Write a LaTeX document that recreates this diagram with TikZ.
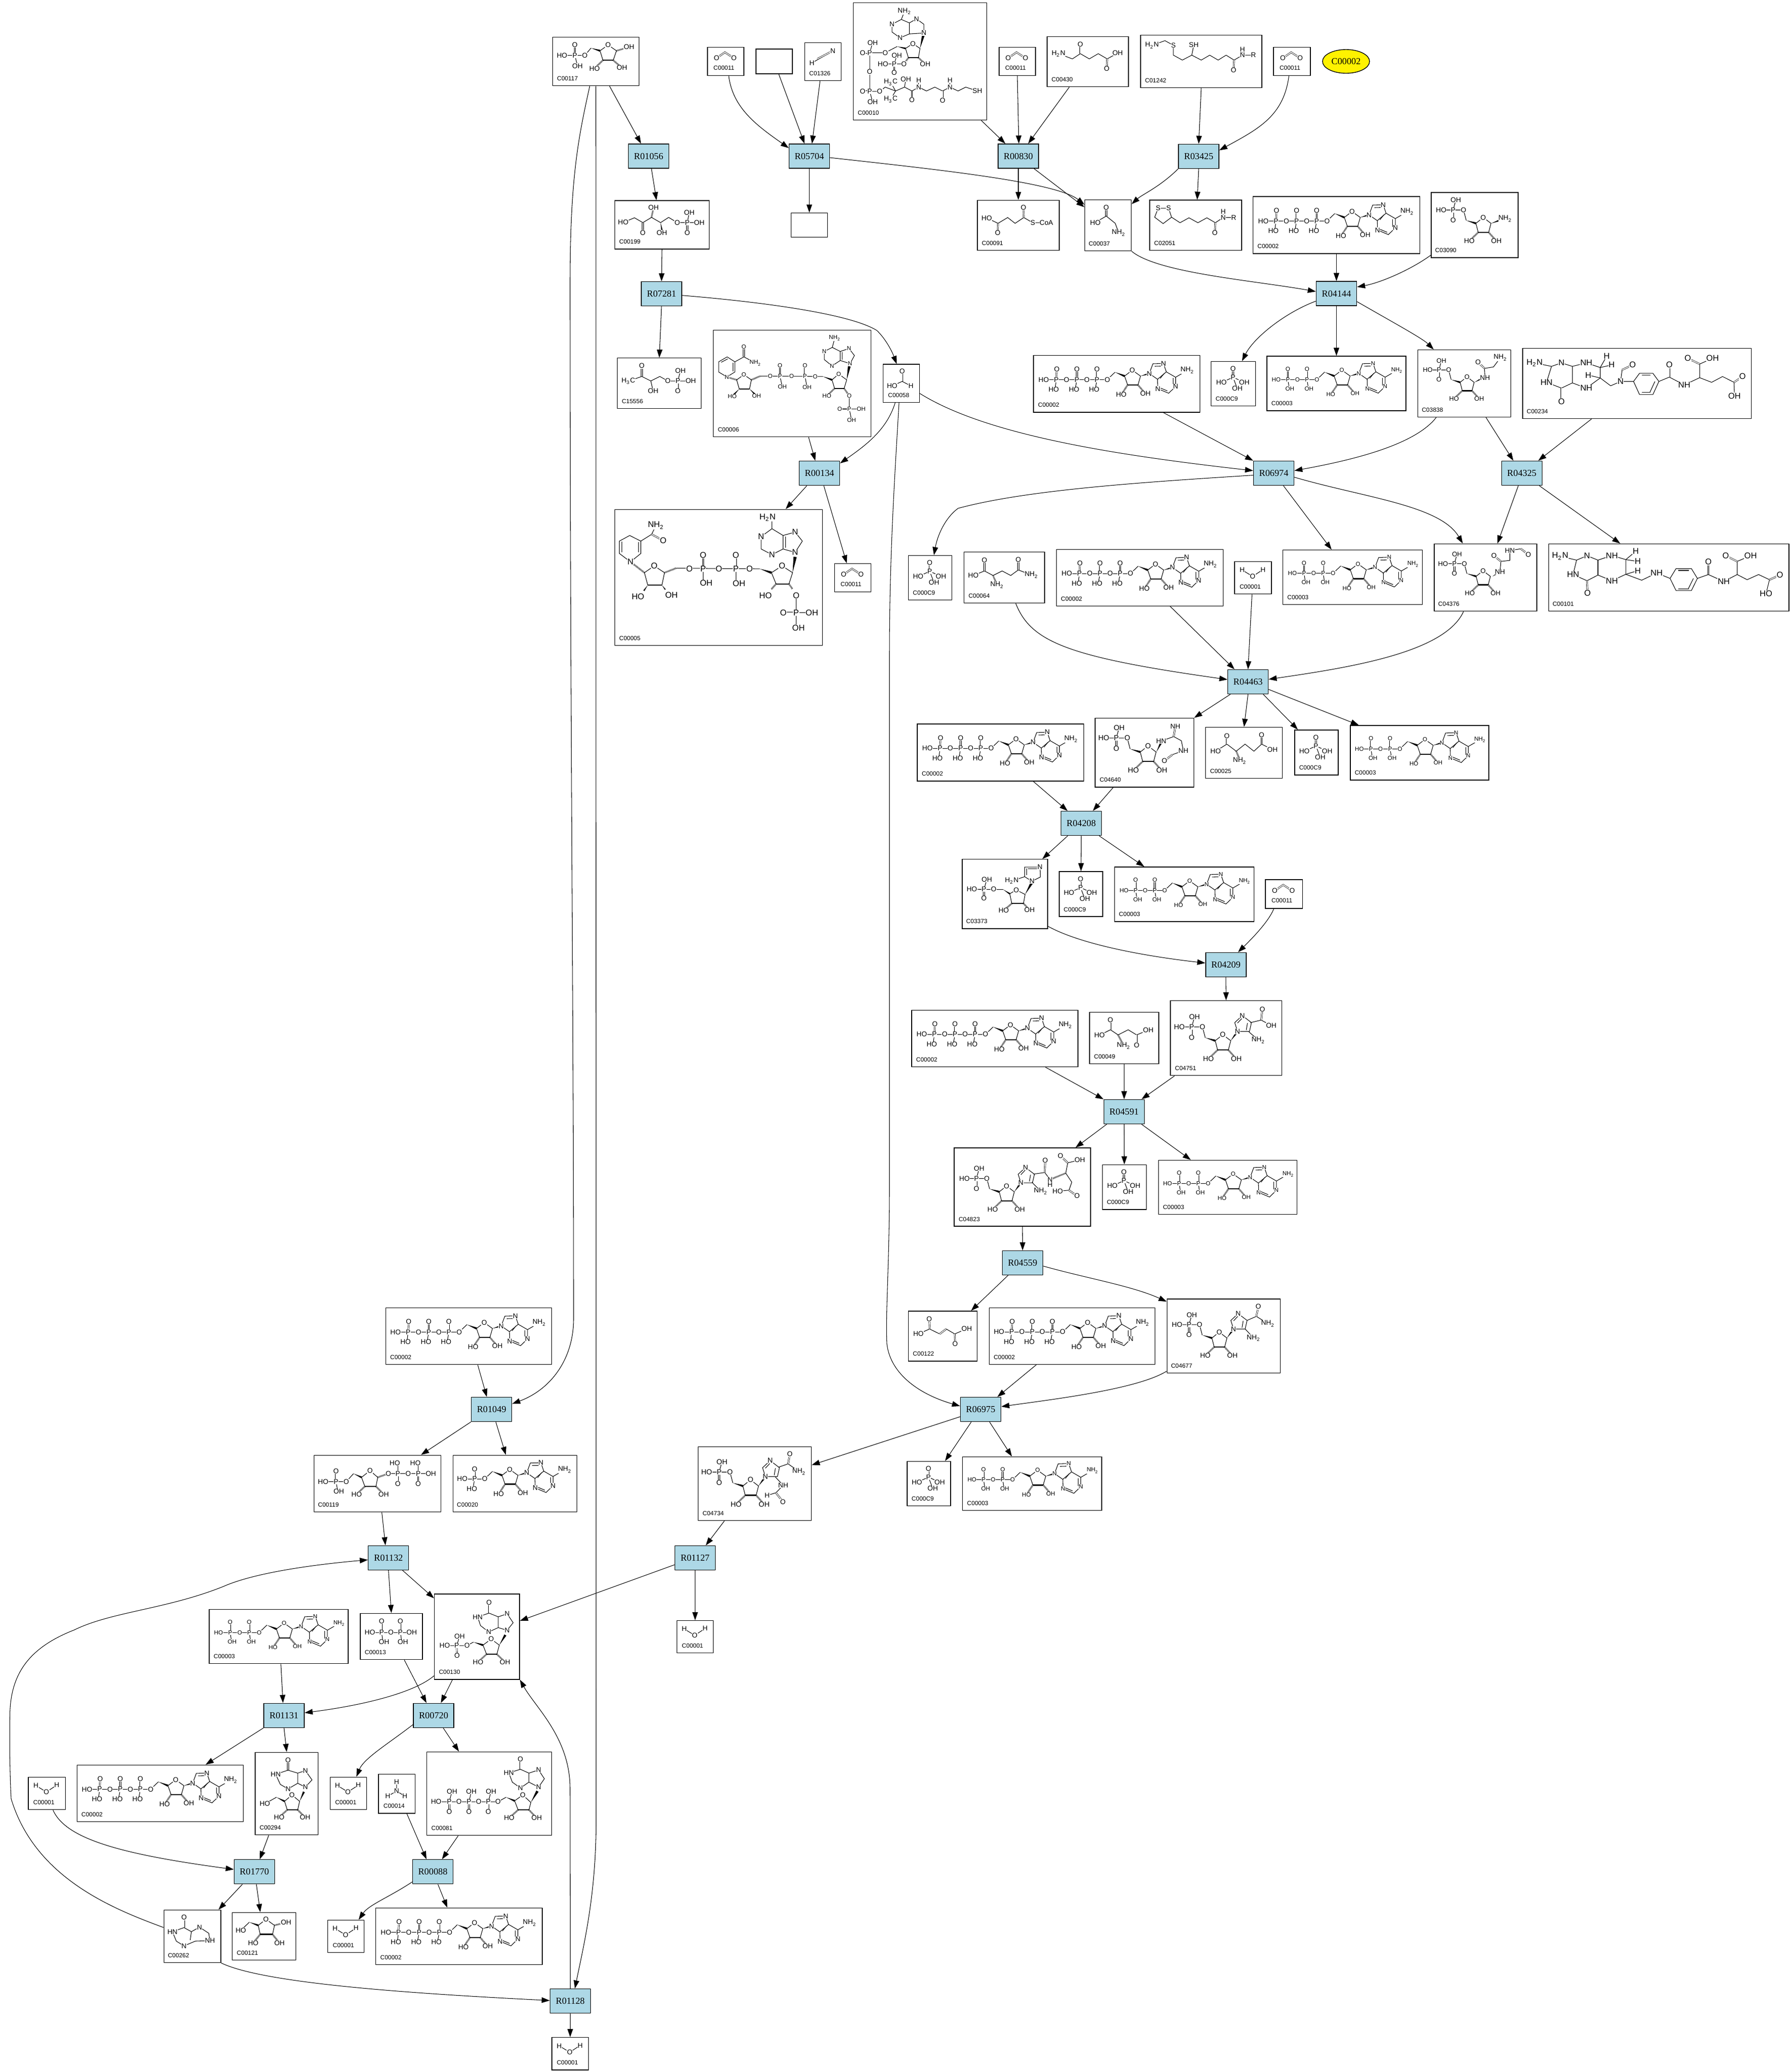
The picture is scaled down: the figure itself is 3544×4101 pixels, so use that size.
\documentclass[tikz,border=0pt]{standalone}
\usepackage{fontspec}
\setmainfont{Liberation Sans}
\newfontfamily\rxnfont{Liberation Serif}
\usetikzlibrary{arrows.meta,calc,shapes.geometric}
\definecolor{rxnblue}{HTML}{ADD8E6}
\newcommand{\atomfonta}{\fontsize{3.9}{4.5}\selectfont}
\newcommand{\atomfontb}{\fontsize{3.3}{4}\selectfont}
\newcommand{\atomfontc}{\fontsize{4.7}{5.5}\selectfont}
\newcommand{\nh}{NH\textsubscript{2}}
\newcommand{\hn}{H\textsubscript{2}N}
\newcommand{\hc}{H\textsubscript{3}C}
\newcommand{\atoms}[1]{\foreach \atx/\aty/\att in {#1} \node[atom] (n\atx-\aty) at (\atx,\aty) {\att};}
\newcommand{\wdg}[2]{\fill #1 -- ($#2!0.1!90:#1$) -- ($#2!0.1!-90:#1$) -- cycle;}
\tikzset{
  zm/.style n args={4}{x=0.01cm/#1,y=-0.01cm/#2,shift={(-#3,-#4)}},
  rxn/.style={draw,fill=rxnblue,line width=0.4pt,inner sep=0pt,minimum width=0.8cm,minimum height=0.48cm,font=\rxnfont\fontsize{5.2}{6}\selectfont},
  cpd/.style={draw,line width=0.4pt,inner sep=0pt},
  cid/.style={anchor=south west,inner sep=0pt,font=\fontsize{3.4}{4}\selectfont},
  conn/.style={line width=0.3pt,-{Triangle[length=1.6mm,width=1.1mm]}},
  atom/.style={fill=white,inner sep=0.15pt,transform shape,font=\atomfonta},
  bond/.style={line width=0.3pt},
  dbl/.style={line width=0.2pt,double,double distance=0.5pt},
  hashb/.style={line width=0.9pt,dash pattern=on 0.25pt off 0.35pt},
  boldb/.style={line width=0.7pt},
  adenosine/.pic={
    \begin{scope}[zm={1.96}{3}{703}{259}]
    \draw[bond] (703,259) -- (733,215);
    \wdg{(733,215)}{(770,238)}
    \draw[bond] (770,238) -- (800,203) -- (832,238) -- (822,291);
    \draw[boldb] (822,291) -- (782,291);
    \draw[bond] (782,291) -- (770,238);
    \draw[hashb] (782,291) -- (757,348);
    \draw[hashb] (822,291) -- (851,342);
    \wdg{(832,238)}{(866,223)}
    \draw[bond] (866,223) -- (880,165) -- (921,163) -- (932,213) -- (898,257) -- cycle;
    \draw[bond] (898,257) -- (899,313) -- (941,340) -- (968,300) -- (968,245) -- (932,213);
    \draw[bond] (968,245) -- (1014,204);
    \draw[bond] (887,180) -- (912,179);
    \draw[bond] (908,252) -- (924,222);
    \draw[bond] (908,308) -- (936,326);
    \draw[bond] (958,295) -- (958,250);
    \atoms{800/203/O,866/223/N,921/163/N,899/313/N,968/300/N,1014/204/\nh,757/348/HO,851/342/OH}
    \end{scope}
  },
  atp/.pic={
    \begin{scope}[zm={1.96}{3}{739.5}{283.5}]
    \draw[bond] (456,259) -- (703,259);
    \draw[dbl] (505,259) -- (507,198);
    \draw[bond] (505,259) -- (500,318);
    \draw[dbl] (585,259) -- (585,198);
    \draw[bond] (585,259) -- (578,318);
    \draw[dbl] (663,259) -- (663,198);
    \draw[bond] (663,259) -- (656,318);
    \atoms{456/259/HO,505/259/P,507/198/O,495/318/HO,545/259/O,585/259/P,585/198/O,574/318/HO,624/259/O,663/259/P,663/198/O,652/318/HO}
    \pic at (703,259) {adenosine};
    \atoms{703/259/O}
    \end{scope}
  },
  adp/.pic={
    \begin{scope}[zm={1.742}{2.24}{1292.5}{529.5},atom/.append style={font=\atomfontb}]
    \draw[bond] (1085,512) -- (1225,512);
    \draw[dbl] (1125,512) -- (1125,466);
    \draw[bond] (1125,512) -- (1130,552);
    \draw[dbl] (1191,512) -- (1191,466);
    \draw[bond] (1191,512) -- (1196,552);
    \atoms{1085/512/HO,1125/512/P,1125/466/O,1132/552/OH,1158/512/O,1191/512/P,1191/466/O,1198/552/OH}
    \pic at (1225,512) {adenosine};
    \atoms{1225/512/O}
    \end{scope}
  },
  amp/.pic={
    \begin{scope}[zm={1.96}{3}{919}{1159.5}]
    \draw[bond] (715,1131) -- (802,1131);
    \draw[dbl] (763,1131) -- (763,1072);
    \draw[bond] (763,1131) -- (756,1190);
    \atoms{715/1131/HO,763/1131/P,763/1072/O,752/1190/HO}
    \pic at (802,1131) {adenosine};
    \atoms{802/1131/O}
    \end{scope}
  },
  phosph/.pic={
    \begin{scope}[zm={1.307}{2.24}{115}{1313.5}]
    \draw[dbl] (114,1285) -- (114,1247);
    \draw[bond] (84,1308) -- (114,1285) -- (143,1307);
    \draw[bond] (114,1285) -- (125,1335);
    \atoms{114/1247/O,114/1285/P,84/1308/HO,143/1307/OH,125/1335/OH}
    \end{scope}
  },
  water/.pic={
    \begin{scope}[zm={1.742}{2.24}{131.5}{1208.5}]
    \draw[bond] (94,1174) -- (130,1202) -- (166,1172);
    \atoms{94/1174/H,130/1202/O,166/1172/H}
    \end{scope}
  },
  cotwo/.pic={
    \begin{scope}[zm={1.568}{2.613}{605.5}{317}]
    \draw[dbl] (577,300) -- (603,270) -- (631,300);
    \atoms{577/300/O,631/300/O}
    \end{scope}
  },
  hcn/.pic={
    \begin{scope}[zm={1.568}{2.613}{907.5}{319}]
    \draw[bond] (873,326) -- (938,263);
    \draw[dbl] (890,305) -- (938,263);
    \atoms{873/326/H,938/263/N}
    \end{scope}
  },
  coa/.pic={
    \begin{scope}[zm={1.568}{2.613}{1208}{317}]
    \draw[bond] (1220,170) -- (1220,125) -- (1197,97) -- (1175,118) -- (1175,175) -- cycle;
    \draw[bond] (1175,175) -- (1146,195) -- (1121,165) -- (1121,125) -- (1150,100) -- (1175,118);
    \draw[bond] (1150,100) -- (1160,58);
    \wdg{(1208,250)}{(1220,170)}
    \draw[bond] (1163,250) -- (1186,225) -- (1208,250) -- (1203,298);
    \draw[boldb] (1203,298) -- (1172,298);
    \draw[bond] (1172,298) -- (1163,250);
    \wdg{(1137,240)}{(1163,250)}
    \draw[bond] (1137,240) -- (1100,272) -- (1052,272) -- (1061,220);
    \draw[dbl] (1052,272) -- (1030,272);
    \draw[bond] (1052,272) -- (1052,472) -- (1061,528);
    \draw[dbl] (1052,472) -- (1030,472);
    \draw[bond] (1052,472) -- (1083,472) -- (1100,450) -- (1132,470) -- (1160,450) -- (1183,470) -- (1204,450) -- (1228,470) -- (1254,450) -- (1278,470) -- (1301,450) -- (1326,470) -- (1350,450) -- (1386,470);
    \draw[bond] (1117,425) -- (1132,470) -- (1117,513);
    \draw[bond] (1160,450) -- (1164,408);
    \draw[dbl] (1183,470) -- (1183,516);
    \draw[dbl] (1278,470) -- (1278,518);
    \draw[bond] (1204,450) -- (1204,425);
    \draw[bond] (1301,450) -- (1301,425);
    \draw[hashb] (1172,298) -- (1158,330);
    \draw[hashb] (1203,298) -- (1224,330);
    \draw[bond] (1158,330) -- (1093,330);
    \draw[bond] (1128,330) -- (1136,287);
    \draw[dbl] (1128,330) -- (1128,376);
    \atoms{1160/58/\nh,1121/125/N,1146/195/N,1197/97/N,1220/170/N,1186/225/O,1224/330/OH,1158/330/O,1128/330/P,1093/330/HO,1136/287/OH,1128/376/O,1100/272/O,1052/272/P,1030/272/O,1061/220/OH,1052/371/O,1052/472/P,1030/472/O,1061/528/OH,1083/472/O,1117/425/\hc,1117/513/\hc,1164/408/OH,1183/516/O,1204/450/N,1204/415/H,1278/518/O,1301/450/N,1301/415/H,1386/470/SH}
    \end{scope}
  },
  alevulin/.pic={
    \begin{scope}[zm={1.0155}{1.742}{155}{212.5}]
    \draw[bond] (96,185) -- (124,203) -- (140,185) -- (158,203) -- (176,185) -- (194,203) -- (215,183);
    \draw[dbl] (140,185) -- (140,152);
    \draw[dbl] (194,203) -- (193,237);
    \atoms{96/185/\hn,140/152/O,193/237/O,215/183/OH}
    \end{scope}
  },
  dihydrolip/.pic={
    \begin{scope}[zm={1.0155}{1.742}{383}{211.5}]
    \draw[bond] (284,156) -- (310,140) -- (327,156) -- (327,190) -- (345,207) -- (364,190) -- (383,207) -- (400,190) -- (417,207) -- (433,190) -- (449,207) -- (466,190) -- (488,190);
    \draw[bond] (364,190) -- (368,155);
    \draw[bond] (466,190) -- (466,170);
    \draw[dbl] (449,207) -- (448,242);
    \atoms{284/156/\hn,327/156/S,368/155/SH,466/190/N,466/170/H,488/190/R,448/242/O}
    \end{scope}
  },
  glycine/.pic={
    \begin{scope}[zm={1.0155}{1.742}{195.5}{777}]
    \draw[dbl] (192,715) -- (192,745);
    \draw[bond] (170,767) -- (192,745) -- (210,770) -- (217,803);
    \atoms{192/715/O,170/767/HO,217/803/\nh}
    \end{scope}
  },
  succoa/.pic={
    \begin{scope}[zm={1.568}{2.613}{1513}{1165.4}]
    \draw[bond] (1415,1127) -- (1450,1155) -- (1480,1125) -- (1503,1155) -- (1530,1125) -- (1558,1152) -- (1600,1152);
    \draw[dbl] (1450,1155) -- (1449,1205);
    \draw[dbl] (1530,1125) -- (1529,1074);
    \atoms{1415/1127/HO,1449/1205/O,1529/1074/O,1558/1152/S,1600/1152/CoA}
    \end{scope}
  },
  lipoyl/.pic={
    \begin{scope}[zm={1.0155}{1.742}{371.5}{776.5}]
    \draw[bond] (296,718) -- (317,718) -- (323,749) -- (306,771) -- (289,749) -- cycle;
    \draw[bond] (323,749) -- (340,768) -- (358,751) -- (376,768) -- (394,751) -- (411,768) -- (427,750) -- (448,750);
    \draw[bond] (427,750) -- (427,730);
    \draw[dbl] (411,768) -- (410,803);
    \atoms{296/718/S,317/718/S,427/750/N,427/730/H,448/750/R,410/803/O}
    \end{scope}
  },
  ribp/.pic={
    \begin{scope}[zm={1.307}{2.24}{847}{668}]
    \draw[bond] (757,609) -- (815,609) -- (822,655);
    \draw[bond] (788,609) -- (795,565);
    \draw[dbl] (788,609) -- (788,654);
    \wdg{(822,655)}{(847,668)}
    \draw[bond] (847,668) -- (866,642) -- (886,668) -- (880,708);
    \draw[boldb] (880,708) -- (853,708);
    \draw[bond] (853,708) -- (847,668);
    \draw[hashb] (853,708) -- (830,746);
    \draw[hashb] (880,708) -- (900,746);
    \atoms{757/609/HO,788/609/P,795/565/OH,788/654/O,815/609/O,866/642/O,830/746/HO,900/746/OH}
    \end{scope}
  },
  imring/.pic={
    \begin{scope}[zm={1.307}{2.24}{847}{668}]
    \wdg{(886,668)}{(903,628)}
    \draw[bond] (903,628) -- (896,590) -- (915,560) -- (938,590) -- (933,628) -- cycle;
    \draw[bond] (903,592) -- (914,572);
    \draw[bond] (928,592) -- (925,622);
    \atoms{903/628/N,915/560/N}
    \end{scope}
  },
  pra/.pic={
    \begin{scope}[zm={1.0155}{1.742}{932.5}{776}]
    \pic at (935,770) {ribp};
    \wdg{(966,770)}{(985,758)}
    \atoms{994/754/\nh}
    \end{scope}
  },
  gar/.pic={
    \begin{scope}[zm={1.0155}{1.742}{911.5}{1322}]
    \pic[scale=0.93] at (903,1318) {ribp};
    \wdg{(932,1318)}{(945,1306)}
    \draw[bond] (953,1303) -- (952,1270) -- (970,1265) -- (984,1233);
    \draw[dbl] (952,1270) -- (939,1248);
    \atoms{953/1303/NH,939/1248/O,984/1233/\nh}
    \end{scope}
  },
  fgar/.pic={
    \begin{scope}[zm={1.0155}{1.96}{954}{574.5}]
    \pic[scale=0.95] at (935,570) {ribp};
    \wdg{(968,570)}{(978,558)}
    \draw[bond] (983,553) -- (985,512) -- (1003,508) -- (1003,470) -- (1025,463);
    \draw[dbl] (985,512) -- (971,490);
    \draw[dbl] (1025,463) -- (1040,485);
    \atoms{983/553/NH,971/490/O,1003/470/HN,1040/485/O}
    \end{scope}
  },
  fgam/.pic={
    \begin{scope}[zm={1.254}{1.568}{645.5}{172}]
    \pic[scale=1.05] at (635,170) {ribp};
    \wdg{(675,170)}{(687,140)}
    \draw[bond] (687,136) -- (718,122) -- (737,135) -- (742,166) -- (715,178);
    \draw[dbl] (718,122) -- (722,90);
    \draw[dbl] (715,178) -- (695,197);
    \atoms{687/136/HN,722/90/NH,742/166/NH,695/197/O}
    \end{scope}
  },
  air/.pic={
    \begin{scope}[zm={1.254}{1.568}{299}{610.5}]
    \draw[bond] (217,596) -- (295,597);
    \draw[bond] (247,596) -- (254,566);
    \draw[dbl] (247,596) -- (247,624);
    \wdg{(295,597)}{(311,610)}
    \draw[bond] (311,610) -- (327,598) -- (349,612) -- (345,640);
    \draw[boldb] (345,640) -- (316,640);
    \draw[bond] (316,640) -- (311,610);
    \draw[hashb] (316,640) -- (296,662);
    \draw[hashb] (345,640) -- (360,660);
    \wdg{(349,612)}{(366,575)}
    \draw[bond] (366,571) -- (348,557) -- (348,527) -- (386,527) -- (387,558) -- cycle;
    \draw[bond] (353,552) -- (353,532);
    \draw[bond] (356,532) -- (382,532);
    \draw[bond] (348,557) -- (316,570);
    \atoms{254/566/OH,217/596/HO,247/596/P,271/596/O,247/624/O,327/598/O,296/662/HO,360/660/OH,366/571/N,386/527/N,316/570/\hn}
    \end{scope}
  },
  cair/.pic={
    \begin{scope}[zm={1.254}{1.568}{848}{1058}]
    \pic[scale=1.03] at (821,1066) {ribp};
    \pic[scale=1.03] at (821,1066) {imring};
    \draw[bond] (908,1010) -- (935,1002) -- (960,1019);
    \draw[dbl] (935,1002) -- (938,968);
    \draw[bond] (904,1038) -- (928,1064);
    \atoms{938/968/O,960/1019/OH,928/1064/\nh}
    \end{scope}
  },
  saicar/.pic={
    \begin{scope}[zm={1.254}{1.568}{342.5}{1520.4}]
    \pic at (285,1535) {ribp};
    \pic at (285,1535) {imring};
    \draw[bond] (370,1480) -- (398,1475) -- (411,1497);
    \draw[dbl] (398,1475) -- (399,1438);
    \draw[bond] (366,1505) -- (388,1533);
    \draw[hashb] (411,1497) -- (450,1477);
    \draw[bond] (450,1477) -- (455,1445) -- (485,1436);
    \draw[dbl] (455,1445) -- (437,1424);
    \draw[bond] (450,1477) -- (465,1505) -- (458,1530) -- (430,1533);
    \draw[dbl] (458,1530) -- (478,1548);
    \atoms{399/1438/O,411/1497/N,411/1512/H,437/1424/O,485/1436/OH,430/1533/HO,478/1548/O,388/1533/\nh}
    \end{scope}
  },
  fumarate/.pic={
    \begin{scope}[zm={1.307}{2.24}{151}{659.5}]
    \draw[bond] (88,650) -- (117,628) -- (143,650);
    \draw[dbl] (143,650) -- (160,628);
    \draw[bond] (160,628) -- (182,650) -- (213,627);
    \draw[dbl] (117,628) -- (116,583);
    \draw[dbl] (182,650) -- (183,694);
    \atoms{88/650/HO,116/583/O,213/627/OH,183/694/O}
    \end{scope}
  },
  aicar/.pic={
    \begin{scope}[zm={1.307}{2.24}{877.5}{659}]
    \pic at (847,668) {ribp};
    \pic at (847,668) {imring};
    \draw[bond] (938,590) -- (962,572) -- (992,604);
    \draw[dbl] (962,572) -- (967,529);
    \draw[bond] (933,628) -- (955,668);
    \atoms{967/529/O,992/604/\nh,955/668/\nh}
    \end{scope}
  },
  faicar/.pic={
    \begin{scope}[zm={1.742}{2.24}{337}{529.5}]
    \pic[scale=1.04] at (296,540) {ribp};
    \pic[scale=1.04] at (296,540) {imring};
    \draw[bond] (418,457) -- (452,442) -- (490,476);
    \draw[dbl] (452,442) -- (458,399);
    \draw[bond] (408,500) -- (435,537) -- (410,570) -- (380,582);
    \draw[dbl] (410,570) -- (434,610);
    \atoms{458/399/O,490/476/\nh,435/537/NH,380/582/H,434/610/O}
    \end{scope}
  },
  rfivep/.pic={
    \begin{scope}[zm={1.568}{2.613}{202}{317}]
    \draw[bond] (97,286) -- (168,286) -- (187,248);
    \draw[dbl] (137,286) -- (137,232);
    \draw[bond] (137,286) -- (145,340);
    \wdg{(187,248)}{(215,262)}
    \draw[bond] (215,262) -- (240,232) -- (266,262) -- (256,311);
    \draw[boldb] (256,311) -- (224,311);
    \draw[bond] (224,311) -- (215,262);
    \draw[hashb] (224,311) -- (198,353);
    \draw[hashb] (256,311) -- (283,350);
    \draw[hashb] (266,262) -- (305,243);
    \atoms{97/286/HO,137/286/P,137/232/O,145/340/OH,168/286/O,240/232/O,198/353/HO,283/350/OH,305/243/OH}
    \end{scope}
  },
  prpp/.pic={
    \begin{scope}[zm={1.96}{3}{386}{1159.5}]
    \draw[bond] (175,1147) -- (265,1147) -- (293,1100);
    \draw[dbl] (225,1147) -- (225,1086);
    \draw[bond] (225,1147) -- (232,1206);
    \wdg{(293,1100)}{(324,1122)}
    \draw[bond] (324,1122) -- (357,1082) -- (387,1122) -- (380,1176);
    \draw[boldb] (380,1176) -- (337,1176);
    \draw[bond] (337,1176) -- (324,1122);
    \draw[hashb] (337,1176) -- (305,1222);
    \draw[hashb] (380,1176) -- (410,1222);
    \draw[hashb] (387,1122) -- (428,1100);
    \draw[bond] (428,1100) -- (593,1100);
    \draw[bond] (465,1100) -- (465,1036);
    \draw[dbl] (465,1100) -- (465,1159);
    \draw[bond] (544,1100) -- (544,1036);
    \draw[dbl] (544,1100) -- (544,1159);
    \atoms{175/1147/HO,225/1147/P,225/1086/O,236/1206/OH,265/1147/O,357/1082/O,305/1222/HO,410/1222/OH,428/1100/O,465/1100/P,453/1036/HO,465/1159/O,505/1100/O,544/1100/P,533/1036/HO,544/1159/O,593/1100/OH}
    \end{scope}
  },
  ppi/.pic={
    \begin{scope}[zm={1.425}{3}{1103.5}{717}]
    \draw[bond] (1043,693) -- (1161,693);
    \draw[dbl] (1076,693) -- (1076,625);
    \draw[dbl] (1129,693) -- (1129,625);
    \draw[bond] (1076,693) -- (1080,750);
    \draw[bond] (1129,693) -- (1133,750);
    \atoms{1076/625/O,1129/625/O,1043/693/HO,1076/693/P,1102/693/O,1129/693/P,1161/693/OH,1083/750/OH,1136/750/OH}
    \end{scope}
  },
  imp/.pic={
    \begin{scope}[zm={1.425}{3}{1345}{718}]
    \draw[dbl] (1379,514) -- (1379,578);
    \draw[bond] (1379,578) -- (1347,601) -- (1355,652) -- (1378,690) -- (1405,664) -- (1405,600) -- cycle;
    \draw[bond] (1405,600) -- (1430,582) -- (1447,635) -- (1430,680) -- (1405,664);
    \wdg{(1408,768)}{(1425,708)}
    \draw[bond] (1362,768) -- (1385,732) -- (1408,768) -- (1401,822);
    \draw[boldb] (1401,822) -- (1372,822);
    \draw[bond] (1372,822) -- (1362,768);
    \wdg{(1335,750)}{(1362,768)}
    \draw[bond] (1335,750) -- (1317,771) -- (1254,771);
    \draw[bond] (1288,771) -- (1296,715);
    \draw[dbl] (1288,771) -- (1289,831);
    \draw[hashb] (1372,822) -- (1348,868);
    \draw[hashb] (1401,822) -- (1424,868);
    \atoms{1379/514/O,1347/601/HN,1378/690/N,1430/582/N,1430/680/N,1385/732/O,1317/771/O,1288/771/P,1254/771/HO,1296/715/OH,1289/831/O,1348/868/HO,1424/868/OH}
    \end{scope}
  },
  inosine/.pic={
    \begin{scope}[zm={1.307}{2.24}{741.5}{336}]
    \draw[dbl] (745,187) -- (745,232);
    \draw[bond] (745,232) -- (713,250) -- (725,295) -- (745,315) -- (770,290) -- (770,245) -- cycle;
    \draw[bond] (770,245) -- (790,234) -- (807,275) -- (790,307) -- (770,290);
    \wdg{(775,370)}{(786,328)}
    \draw[bond] (736,370) -- (755,342) -- (775,370) -- (770,408);
    \draw[boldb] (770,408) -- (743,408);
    \draw[bond] (743,408) -- (736,370);
    \wdg{(715,352)}{(736,370)}
    \draw[bond] (715,352) -- (685,381);
    \draw[hashb] (743,408) -- (722,441);
    \draw[hashb] (770,408) -- (789,441);
    \atoms{745/187/O,713/250/HN,745/315/N,790/234/N,790/307/N,755/342/O,685/381/HO,722/441/HO,789/441/OH}
    \end{scope}
  },
  itp/.pic={
    \begin{scope}[zm={1.307}{2.24}{1265.5}{336}]
    \draw[dbl] (1346,183) -- (1346,228);
    \draw[bond] (1346,228) -- (1316,244) -- (1325,285) -- (1346,311) -- (1368,285) -- (1368,245) -- cycle;
    \draw[bond] (1368,245) -- (1393,231) -- (1408,270) -- (1393,307) -- (1368,285);
    \wdg{(1373,375)}{(1390,325)}
    \draw[bond] (1331,368) -- (1352,342) -- (1373,375) -- (1368,408);
    \draw[boldb] (1368,408) -- (1340,408);
    \draw[bond] (1340,408) -- (1331,368);
    \wdg{(1309,352)}{(1331,368)}
    \draw[bond] (1309,352) -- (1288,372) -- (1128,372);
    \draw[bond] (1162,372) -- (1169,326);
    \draw[bond] (1213,372) -- (1219,326);
    \draw[bond] (1263,372) -- (1270,326);
    \draw[dbl] (1162,372) -- (1162,417);
    \draw[dbl] (1213,372) -- (1213,417);
    \draw[dbl] (1263,372) -- (1263,417);
    \draw[hashb] (1340,408) -- (1317,444);
    \draw[hashb] (1368,408) -- (1388,444);
    \atoms{1346/183/O,1316/244/HN,1346/311/N,1393/231/N,1393/307/N,1352/342/O,1288/372/O,1263/372/P,1238/372/O,1213/372/P,1187/372/O,1162/372/P,1128/372/HO,1169/326/OH,1219/326/OH,1270/326/OH,1162/417/O,1213/417/O,1263/417/O,1317/444/HO,1388/444/OH}
    \end{scope}
  },
  ammonia/.pic={
    \begin{scope}[zm={1.307}{2.24}{1026.5}{336.5}]
    \draw[bond] (1026,284) -- (1026,325) -- (1003,347);
    \draw[bond] (1026,325) -- (1047,347);
    \atoms{1026/284/H,1026/325/N,1003/347/H,1047/347/H}
    \end{scope}
  },
  hypox/.pic={
    \begin{scope}[zm={1.307}{2.24}{497.5}{968.5}]
    \draw[dbl] (476,885) -- (476,930);
    \draw[bond] (476,930) -- (446,948) -- (456,990) -- (476,1011) -- (505,990) -- (543,988) -- (540,955) -- (516,928) -- (495,948) -- (476,930);
    \draw[bond] (495,948) -- (492,985);
    \atoms{476/885/O,446/948/HN,476/1011/N,516/928/N,543/988/NH}
    \end{scope}
  },
  riboseb/.pic={
    \begin{scope}[zm={1.307}{2.24}{683}{968.5}]
    \draw[bond] (623,942) -- (645,906);
    \wdg{(645,906)}{(668,920)}
    \draw[bond] (668,920) -- (688,893) -- (710,920) -- (705,960);
    \draw[boldb] (705,960) -- (673,960);
    \draw[bond] (673,960) -- (668,920);
    \draw[hashb] (710,920) -- (740,907);
    \draw[hashb] (673,960) -- (655,998);
    \draw[hashb] (705,960) -- (723,998);
    \atoms{623/942/HO,688/893/O,740/907/OH,655/998/HO,723/998/OH}
    \end{scope}
  },
  acetolp/.pic={
    \begin{scope}[zm={1.96}{2.24}{205}{355.5}]
    \draw[bond] (85,346) -- (137,325) -- (172,345) -- (207,325) -- (238,345) -- (327,345);
    \draw[dbl] (137,325) -- (137,278);
    \draw[bond] (172,345) -- (181,390);
    \draw[bond] (277,345) -- (287,300);
    \draw[dbl] (277,345) -- (277,390);
    \atoms{85/346/\hc,137/278/O,181/390/OH,238/345/O,277/345/P,287/300/OH,327/345/OH,277/390/O}
    \end{scope}
  },
  ribulp/.pic={
    \begin{scope}[zm={1.568}{2.613}{407.5}{1163.5}]
    \draw[bond] (287,1151) -- (322,1127) -- (348,1152) -- (375,1125) -- (403,1152) -- (428,1125) -- (455,1152) -- (523,1152);
    \draw[dbl] (348,1152) -- (348,1204);
    \draw[hashb] (375,1125) -- (381,1075);
    \wdg{(403,1152)}{(407,1190)}
    \draw[bond] (486,1152) -- (492,1100);
    \draw[dbl] (486,1152) -- (486,1204);
    \atoms{287/1151/HO,348/1204/O,381/1075/OH,407/1204/OH,455/1152/O,486/1152/P,492/1100/OH,523/1152/OH,486/1204/O}
    \end{scope}
  },
  nadp/.pic={
    \begin{scope}[zm={1.96}{2.24}{720.5}{356},atom/.append style={font=\atomfontb}]
    \draw[dbl] (533,194) -- (533,238);
    \draw[bond] (578,265) -- (533,238) -- (498,260);
    \draw[bond] (498,260) -- (468,238) -- (435,260) -- (435,305) -- (467,327) -- (498,305) -- cycle;
    \draw[bond] (445,262) -- (470,247);
    \draw[bond] (490,265) -- (490,302);
    \draw[hashb] (467,327) -- (505,340);
    \draw[bond] (505,340) -- (533,317) -- (562,340) -- (555,380);
    \draw[boldb] (555,380) -- (515,380);
    \draw[bond] (515,380) -- (505,340);
    \wdg{(515,380)}{(488,413)}
    \wdg{(555,380)}{(582,411)}
    \draw[hashb] (562,340) -- (597,323);
    \draw[bond] (597,323) -- (840,325);
    \draw[dbl] (673,323) -- (673,277);
    \draw[bond] (673,323) -- (682,371);
    \draw[dbl] (770,323) -- (770,277);
    \draw[bond] (770,323) -- (778,373);
    \wdg{(840,325)}{(875,340)}
    \draw[bond] (875,340) -- (901,314) -- (932,340) -- (922,378);
    \draw[boldb] (922,378) -- (885,378);
    \draw[bond] (885,378) -- (875,340);
    \draw[hashb] (885,378) -- (855,411);
    \draw[hashb] (922,378) -- (942,411);
    \draw[bond] (942,411) -- (942,469) -- (988,469);
    \draw[dbl] (942,469) -- (905,469);
    \draw[bond] (942,469) -- (951,518);
    \wdg{(932,340)}{(942,280)}
    \draw[bond] (945,268) -- (962,232) -- (941,201) -- (907,214) -- (907,254) -- cycle;
    \draw[bond] (907,254) -- (875,278) -- (845,250) -- (845,214) -- (876,196) -- (907,214);
    \draw[bond] (876,196) -- (886,154);
    \draw[bond] (914,218) -- (914,250);
    \atoms{533/194/O,578/265/\nh,467/327/N,533/317/O,488/413/HO,582/411/OH,635/323/O,673/323/P,673/277/O,682/371/OH,718/323/O,770/323/P,770/277/O,778/373/OH,810/325/O,901/314/O,855/411/HO,942/411/O,942/469/P,905/469/O,988/469/OH,951/518/OH,945/268/N,941/201/N,875/278/N,845/214/N,886/154/\nh}
    \end{scope}
  },
  nadph/.pic={
    \begin{scope}[zm={1.96}{2.24}{435}{1216},atom/.append style={font=\atomfontc}]
    \draw[bond] (192,985) -- (175,1025) -- (133,1055);
    \draw[bond] (133,1055) -- (90,1030) -- (50,1055) -- (50,1110) -- (93,1147) -- (133,1110) -- cycle;
    \draw[dbl] (175,1025) -- (220,1052);
    \draw[bond] (60,1058) -- (60,1105);
    \draw[bond] (124,1060) -- (124,1105);
    \draw[hashb] (93,1147) -- (147,1195);
    \draw[bond] (147,1195) -- (185,1165) -- (225,1195) -- (215,1250);
    \draw[boldb] (215,1250) -- (160,1250);
    \draw[bond] (160,1250) -- (147,1195);
    \wdg{(160,1250)}{(145,1275)}
    \wdg{(215,1250)}{(228,1270)}
    \draw[hashb] (225,1195) -- (270,1175);
    \draw[bond] (270,1175) -- (595,1178);
    \draw[dbl] (375,1178) -- (375,1117);
    \draw[bond] (375,1178) -- (375,1241);
    \draw[dbl] (502,1178) -- (502,1117);
    \draw[bond] (502,1178) -- (502,1243);
    \wdg{(595,1178)}{(640,1195)}
    \draw[bond] (640,1195) -- (681,1165) -- (722,1195) -- (708,1245);
    \draw[boldb] (708,1245) -- (658,1245);
    \draw[bond] (658,1245) -- (640,1195);
    \draw[hashb] (658,1245) -- (640,1268);
    \draw[hashb] (708,1245) -- (722,1268);
    \draw[bond] (736,1296) -- (736,1440);
    \draw[dbl] (736,1373) -- (686,1373);
    \draw[bond] (736,1373) -- (797,1373);
    \wdg{(722,1195)}{(732,1125)}
    \draw[bond] (732,1105) -- (760,1055) -- (732,1015) -- (685,1030) -- (685,1090) -- cycle;
    \draw[bond] (685,1090) -- (642,1115) -- (600,1090) -- (600,1035) -- (642,1000) -- (685,1030);
    \draw[bond] (642,1000) -- (642,965);
    \draw[bond] (695,1035) -- (695,1085);
    \atoms{192/985/\nh,220/1052/O,93/1147/N,185/1165/O,122/1300/HO,252/1295/OH,322/1178/O,375/1178/P,375/1117/O,387/1241/OH,436/1178/O,502/1178/P,502/1117/O,514/1243/OH,555/1178/O,681/1165/O,617/1297/HO,736/1296/O,736/1373/P,686/1373/O,797/1373/OH,745/1440/OH,732/1105/N,732/1015/N,642/1115/N,600/1035/N,625/950/\hn}
    \end{scope}
  },
  formate/.pic={
    \begin{scope}[zm={1.96}{2.24}{1143.5}{355.5}]
    \draw[dbl] (1147,302) -- (1147,347);
    \draw[bond] (1108,367) -- (1147,347) -- (1181,367);
    \atoms{1147/302/O,1108/367/HO,1181/367/H}
    \end{scope}
  },
  gln/.pic={
    \begin{scope}[zm={1}{1}{1987.3}{1142.9}]
    \draw[bond] (1926,1139) -- (1948,1130) -- (1965,1139) -- (1983,1130) -- (2000,1139) -- (2015,1128) -- (2041,1138);
    \draw[dbl] (1948,1130) -- (1948,1109);
    \draw[hashb] (1965,1139) -- (1973,1158);
    \draw[dbl] (2015,1128) -- (2015,1108);
    \atoms{1926/1139/HO,1948/1109/O,1973/1158/\nh,2015/1108/O,2041/1138/\nh}
    \end{scope}
  },
  glu/.pic={
    \begin{scope}[zm={1.254}{1.568}{892.5}{172}]
    \draw[bond] (822,167) -- (850,145) -- (873,167) -- (895,145) -- (917,167) -- (936,145) -- (963,162);
    \draw[dbl] (850,145) -- (850,120);
    \draw[dbl] (936,145) -- (936,117);
    \draw[hashb] (873,167) -- (880,187);
    \atoms{850/120/O,822/167/HO,882/197/\nh,936/117/O,963/162/OH}
    \end{scope}
  },
  asp/.pic={
    \begin{scope}[zm={1.254}{1.568}{595}{1058}]
    \draw[bond] (534,1049) -- (561,1032) -- (580,1048) -- (605,1032) -- (626,1048) -- (655,1033);
    \draw[dbl] (561,1032) -- (561,1002);
    \draw[dbl] (626,1048) -- (626,1080);
    \draw[hashb] (580,1048) -- (590,1072);
    \atoms{561/1002/O,534/1049/HO,594/1082/\nh,626/1080/O,655/1033/OH}
    \end{scope}
  },
  thfa/.pic={
    \begin{scope}[zm={1.0155}{1.742}{1258}{1322},atom/.append style={font=\atomfontc}]
    \draw[bond] (1052,1251) -- (1086,1263) -- (1106,1251) -- (1128,1263) -- (1156,1251) -- (1184,1267) -- (1184,1303) -- (1156,1338) -- (1128,1320) -- (1106,1338) -- (1076,1318) -- (1086,1263);
    \draw[bond] (1128,1263) -- (1128,1320);
    \draw[dbl] (1106,1338) -- (1106,1384);
    \draw[bond] (1184,1267) -- (1197,1228);
    \draw[bond] (1184,1267) -- (1207,1258);
    \draw[bond] (1184,1303) -- (1160,1293);
    \draw[bond] (1184,1303) -- (1205,1330) -- (1225,1315) -- (1228,1275);
    \draw[dbl] (1228,1275) -- (1249,1258);
    \draw[bond] (1225,1315) -- (1251,1315) -- (1263,1287) -- (1290,1287) -- (1302,1315) -- (1290,1360) -- (1263,1360) -- (1251,1315);
    \draw[bond] (1268,1294) -- (1285,1294);
    \draw[bond] (1268,1353) -- (1285,1353);
    \draw[bond] (1294,1315) -- (1284,1352);
    \draw[bond] (1302,1315) -- (1323,1300) -- (1353,1327) -- (1384,1302) -- (1384,1255) -- (1410,1235);
    \draw[dbl] (1323,1300) -- (1323,1258);
    \draw[dbl] (1384,1255) -- (1360,1235);
    \draw[bond] (1384,1302) -- (1408,1318) -- (1430,1298) -- (1453,1318) -- (1454,1365);
    \draw[dbl] (1453,1318) -- (1470,1298);
    \atoms{1052/1251/\hn,1106/1251/N,1156/1251/NH,1197/1228/H,1207/1258/H,1160/1293/H,1156/1338/NH,1106/1384/O,1076/1318/HN,1225/1315/N,1249/1258/O,1323/1258/O,1353/1327/NH,1360/1235/O,1410/1235/OH,1470/1298/O,1454/1365/OH}
    \end{scope}
  },
  thfb/.pic={
    \begin{scope}[zm={1.0155}{1.96}{1322.5}{574.5},atom/.append style={font=\atomfontc}]
    \draw[bond] (1104,492) -- (1137,507) -- (1158,490) -- (1180,507) -- (1208,489) -- (1236,505) -- (1236,562) -- (1208,587) -- (1180,565) -- (1158,587) -- (1130,563) -- (1137,507);
    \draw[bond] (1180,507) -- (1180,565);
    \draw[dbl] (1158,587) -- (1159,634);
    \draw[bond] (1236,505) -- (1256,473);
    \draw[bond] (1236,505) -- (1260,512);
    \draw[bond] (1236,562) -- (1260,548);
    \draw[bond] (1236,562) -- (1268,585) -- (1298,557) -- (1325,578) -- (1337,540) -- (1368,540) -- (1380,578) -- (1368,625) -- (1337,625) -- (1325,578);
    \draw[bond] (1342,547) -- (1363,547);
    \draw[bond] (1342,618) -- (1363,618);
    \draw[bond] (1372,578) -- (1362,617);
    \draw[bond] (1380,578) -- (1402,563) -- (1433,590) -- (1460,563) -- (1460,512) -- (1487,490);
    \draw[dbl] (1402,563) -- (1402,514);
    \draw[dbl] (1460,512) -- (1437,490);
    \draw[bond] (1460,563) -- (1480,583) -- (1503,563) -- (1525,583) -- (1518,637);
    \draw[dbl] (1525,583) -- (1546,565);
    \atoms{1104/492/\hn,1158/490/N,1208/489/NH,1256/473/H,1260/512/H,1260/548/H,1208/587/NH,1159/634/O,1130/563/HN,1298/557/NH,1402/514/O,1433/590/NH,1437/490/O,1487/490/OH,1546/565/O,1518/637/HO}
    \end{scope}
  }
}
\begin{document}
\begin{tikzpicture}[x=0.01cm,y=-0.01cm]
\useasboundingbox (0,0) rectangle (3544,4101);
\node[cpd,minimum width=1.71cm,minimum height=0.96cm] (C00117) at (1179,121.5) {};
\node[cid] (C00117t) at ([xshift=0.9mm,yshift=1mm]C00117.south west) {C00117};
\pic at (C00117.center) {rfivep};
\node[cpd,minimum width=0.72cm,minimum height=0.56cm] (C00011a) at (1436,121.5) {};
\node[cid] (C00011at) at ([xshift=1.2mm,yshift=1.1mm]C00011a.south west) {C00011};
\pic at (C00011a.center) {cotwo};
\node[cpd,minimum width=0.72cm,minimum height=0.49cm] (blanka) at (1532,121.5) {};
\node[cpd,minimum width=0.72cm,minimum height=0.75cm] (C01326) at (1628.5,122) {};
\node[cid] (C01326t) at ([xshift=0.9mm,yshift=1mm]C01326.south west) {C01326};
\pic at (C01326.center) {hcn};
\node[cpd,minimum width=2.64cm,minimum height=2.32cm] (C00010) at (1820.5,121.5) {};
\node[cid] (C00010t) at ([xshift=0.9mm,yshift=1mm]C00010.south west) {C00010};
\pic at (C00010.center) {coa};
\node[cpd,minimum width=0.72cm,minimum height=0.56cm] (C00011b) at (2013,121.5) {};
\node[cid] (C00011bt) at ([xshift=1.2mm,yshift=1.1mm]C00011b.south west) {C00011};
\pic at (C00011b.center) {cotwo};
\node[cpd,minimum width=1.61cm,minimum height=0.99cm] (C00430) at (2152.5,122) {};
\node[cid] (C00430t) at ([xshift=0.9mm,yshift=1mm]C00430.south west) {C00430};
\pic at (C00430.center) {alevulin};
\node[cpd,minimum width=2.4cm,minimum height=1.04cm] (C01242) at (2377,121.5) {};
\node[cid] (C01242t) at ([xshift=0.9mm,yshift=1mm]C01242.south west) {C01242};
\pic at (C01242.center) {dihydrolip};
\node[cpd,minimum width=0.73cm,minimum height=0.56cm] (C00011c) at (2556.5,121.5) {};
\node[cid] (C00011ct) at ([xshift=1.2mm,yshift=1.1mm]C00011c.south west) {C00011};
\pic at (C00011c.center) {cotwo};
\node[draw,ellipse,fill=yellow,line width=0.4pt,inner sep=0pt,minimum width=0.93cm,minimum height=0.47cm,font=\rxnfont\fontsize{5.2}{6}\selectfont] (C00002o) at (2663.5,121.5) {C00002};
\node[rxn] (R01056) at (1283.5,309) {R01056};
\node[rxn] (R05704) at (1601.5,309) {R05704};
\node[rxn] (R00830) at (2015,309) {R00830};
\node[rxn] (R03425) at (2372,309.5) {R03425};
\node[cpd,minimum width=1.87cm,minimum height=0.96cm] (C00199) at (1310,445) {};
\node[cid] (C00199t) at ([xshift=0.9mm,yshift=1mm]C00199.south west) {C00199};
\pic at (C00199.center) {ribulp};
\node[cpd,minimum width=0.72cm,minimum height=0.48cm] (blankb) at (1601.5,445.5) {};
\node[cpd,minimum width=1.62cm,minimum height=0.99cm] (C00091) at (2015,446) {};
\node[cid] (C00091t) at ([xshift=0.9mm,yshift=1mm]C00091.south west) {C00091};
\pic at (C00091.center) {succoa};
\node[cpd,minimum width=0.92cm,minimum height=1.01cm] (C00037) at (2192.5,446) {};
\node[cid] (C00037t) at ([xshift=0.8mm,yshift=1mm]C00037.south west) {C00037};
\pic at (C00037.center) {glycine};
\node[cpd,minimum width=1.82cm,minimum height=0.99cm] (C02051) at (2366,445.7) {};
\node[cid] (C02051t) at ([xshift=0.9mm,yshift=1mm]C02051.south west) {C02051};
\pic at (C02051.center) {lipoyl};
\node[cpd,minimum width=3.3cm,minimum height=1.13cm] (C00002a) at (2644.5,445.5) {};
\node[cid] (C00002at) at ([xshift=0.9mm,yshift=1mm]C00002a.south west) {C00002};
\pic at (C00002a.center) {atp};
\node[cpd,minimum width=1.72cm,minimum height=1.29cm] (C03090) at (2918,445.5) {};
\node[cid] (C03090t) at ([xshift=0.8mm,yshift=1mm]C03090.south west) {C03090};
\pic at (C03090.center) {pra};
\node[rxn] (R07281) at (1309,581.7) {R07281};
\node[rxn] (R04144) at (2644.5,581) {R04144};
\node[cpd,minimum width=1.66cm,minimum height=1cm] (C15556) at (1304.6,758.7) {};
\node[cid] (C15556t) at ([xshift=0.9mm,yshift=1mm]C15556.south west) {C15556};
\pic at (C15556.center) {acetolp};
\node[cpd,minimum width=3.12cm,minimum height=2.11cm] (C00006) at (1567.6,759) {};
\node[cid] (C00006t) at ([xshift=0.9mm,yshift=1mm]C00006.south west) {C00006};
\pic at (C00006.center) {nadp};
\node[cpd,minimum width=0.72cm,minimum height=0.75cm] (C00058) at (1783.4,758.7) {};
\node[cid] (C00058t) at ([xshift=1mm,yshift=1mm]C00058.south west) {C00058};
\pic at (C00058.center) {formate};
\node[cpd,minimum width=3.29cm,minimum height=1.125cm] (C00002b) at (2209.7,759.5) {};
\node[cid] (C00002bt) at ([xshift=0.9mm,yshift=1mm]C00002b.south west) {C00002};
\pic at (C00002b.center) {atp};
\node[cpd,minimum width=0.88cm,minimum height=0.88cm] (C00009a) at (2440.7,759.5) {};
\node[cid] (C00009at) at ([xshift=0.9mm,yshift=1mm]C00009a.south west) {C000C9};
\pic at (C00009a.center) {phosph};
\node[cpd,minimum width=2.75cm,minimum height=1.08cm] (C00003a) at (2644.5,759) {};
\node[cid] (C00003at) at ([xshift=0.9mm,yshift=1mm]C00003a.south west) {C00003};
\pic at (C00003a.center) {adp};
\node[cpd,minimum width=1.84cm,minimum height=1.33cm] (C03838) at (2897.6,759) {};
\node[cid] (C03838t) at ([xshift=0.8mm,yshift=1mm]C03838.south west) {C03838};
\pic at (C03838.center) {gar};
\node[cpd,minimum width=4.52cm,minimum height=1.39cm] (C00234) at (3239.3,759) {};
\node[cid] (C00234t) at ([xshift=0.8mm,yshift=1mm]C00234.south west) {C00234};
\pic at (C00234.center) {thfa};
\node[rxn] (R00134) at (1621.6,936.6) {R00134};
\node[rxn] (R06974) at (2520.5,936.5) {R06974};
\node[rxn] (R04325) at (3011.4,936.5) {R04325};
\node[cpd,minimum width=4.11cm,minimum height=2.69cm] (C00005) at (1422,1142.8) {};
\node[cid] (C00005t) at ([xshift=0.9mm,yshift=1mm]C00005.south west) {C00005};
\pic at (C00005.center) {nadph};
\node[cpd,minimum width=0.72cm,minimum height=0.56cm] (C00011d) at (1687.5,1143.5) {};
\node[cid] (C00011dt) at ([xshift=1.2mm,yshift=1.1mm]C00011d.south west) {C00011};
\pic at (C00011d.center) {cotwo};
\node[cpd,minimum width=0.86cm,minimum height=0.88cm] (C00009b) at (1840.5,1143.5) {};
\node[cid] (C00009bt) at ([xshift=0.9mm,yshift=1mm]C00009b.south west) {C000C9};
\pic at (C00009b.center) {phosph};
\node[cpd,minimum width=1.595cm,minimum height=1.01cm] (C00064) at (1987.3,1142.9) {};
\node[cid] (C00064t) at ([xshift=0.9mm,yshift=1mm]C00064.south west) {C00064};
\pic at (C00064.center) {gln};
\node[cpd,minimum width=3.3cm,minimum height=1.12cm] (C00002c) at (2255.5,1143.4) {};
\node[cid] (C00002ct) at ([xshift=0.9mm,yshift=1mm]C00002c.south west) {C00002};
\pic at (C00002c.center) {atp};
\node[cpd,minimum width=0.73cm,minimum height=0.64cm] (C00001a) at (2479.5,1143.6) {};
\node[cid] (C00001at) at ([xshift=1mm,yshift=1mm]C00001a.south west) {C00001};
\pic at (C00001a.center) {water};
\node[cpd,minimum width=2.76cm,minimum height=1.08cm] (C00003b) at (2676.5,1142.6) {};
\node[cid] (C00003bt) at ([xshift=0.9mm,yshift=1mm]C00003b.south west) {C00003};
\pic at (C00003b.center) {adp};
\node[cpd,minimum width=2.03cm,minimum height=1.33cm] (C04376) at (2939.5,1143) {};
\node[cid] (C04376t) at ([xshift=0.8mm,yshift=1mm]C04376.south west) {C04376};
\pic at (C04376.center) {fgar};
\node[cpd,minimum width=4.755cm,minimum height=1.33cm] (C00101) at (3302.2,1143) {};
\node[cid] (C00101t) at ([xshift=0.8mm,yshift=1mm]C00101.south west) {C00101};
\pic at (C00101.center) {thfb};
\node[rxn] (R04463) at (2469.6,1349.5) {R04463};
\node[cpd,minimum width=3.29cm,minimum height=1.13cm] (C00002d) at (1979.7,1489.4) {};
\node[cid] (C00002dt) at ([xshift=0.9mm,yshift=1mm]C00002d.south west) {C00002};
\pic at (C00002d.center) {atp};
\node[cpd,minimum width=1.95cm,minimum height=1.365cm] (C04640) at (2264.7,1489.7) {};
\node[cid] (C04640t) at ([xshift=0.9mm,yshift=1mm]C04640.south west) {C04640};
\pic at (C04640.center) {fgam};
\node[cpd,minimum width=1.52cm,minimum height=1.01cm] (C00025) at (2461.7,1490) {};
\node[cid] (C00025t) at ([xshift=0.9mm,yshift=1mm]C00025.south west) {C00025};
\pic at (C00025.center) {glu};
\node[cpd,minimum width=0.86cm,minimum height=0.89cm] (C00009c) at (2604.8,1489.3) {};
\node[cid] (C00009ct) at ([xshift=0.9mm,yshift=1mm]C00009c.south west) {C000C9};
\pic at (C00009c.center) {phosph};
\node[cpd,minimum width=2.74cm,minimum height=1.08cm] (C00003c) at (2808.9,1490) {};
\node[cid] (C00003ct) at ([xshift=0.9mm,yshift=1mm]C00003c.south west) {C00003};
\pic at (C00003c.center) {adp};
\node[rxn] (R04208) at (2139.5,1629.6) {R04208};
\node[cpd,minimum width=1.69cm,minimum height=1.37cm] (C03373) at (1988.5,1769.3) {};
\node[cid] (C03373t) at ([xshift=0.8mm,yshift=1mm]C03373.south west) {C03373};
\pic at (C03373.center) {air};
\node[cpd,minimum width=0.86cm,minimum height=0.89cm] (C00009d) at (2139,1769.6) {};
\node[cid] (C00009dt) at ([xshift=0.9mm,yshift=1mm]C00009d.south west) {C000C9};
\pic at (C00009d.center) {phosph};
\node[cpd,minimum width=2.76cm,minimum height=1.08cm] (C00003d) at (2343.3,1770) {};
\node[cid] (C00003dt) at ([xshift=0.9mm,yshift=1mm]C00003d.south west) {C00003};
\pic at (C00003d.center) {adp};
\node[cpd,minimum width=0.73cm,minimum height=0.57cm] (C00011e) at (2540.7,1769.3) {};
\node[cid] (C00011et) at ([xshift=1.2mm,yshift=1.1mm]C00011e.south west) {C00011};
\pic at (C00011e.center) {cotwo};
\node[rxn] (R04209) at (2425.8,1909.3) {R04209};
\node[cpd,minimum width=3.29cm,minimum height=1.12cm] (C00002e) at (1968.5,2055.4) {};
\node[cid] (C00002et) at ([xshift=0.9mm,yshift=1mm]C00002e.south west) {C00002};
\pic at (C00002e.center) {atp};
\node[cpd,minimum width=1.37cm,minimum height=1.02cm] (C00049) at (2224.4,2054.7) {};
\node[cid] (C00049t) at ([xshift=0.9mm,yshift=1mm]C00049.south west) {C00049};
\pic at (C00049.center) {asp};
\node[cpd,minimum width=2.2cm,minimum height=1.48cm] (C04751) at (2426.2,2054.7) {};
\node[cid] (C04751t) at ([xshift=0.9mm,yshift=1mm]C04751.south west) {C04751};
\pic at (C04751.center) {cair};
\node[rxn] (R04591) at (2224.4,2200.4) {R04591};
\node[cpd,minimum width=2.7cm,minimum height=1.55cm] (C04823) at (2023.1,2349.6) {};
\node[cid] (C04823t) at ([xshift=0.9mm,yshift=1mm]C04823.south west) {C04823};
\pic at (C04823.center) {saicar};
\node[cpd,minimum width=0.87cm,minimum height=0.885cm] (C00009e) at (2224.8,2349.6) {};
\node[cid] (C00009et) at ([xshift=0.9mm,yshift=1mm]C00009e.south west) {C000C9};
\pic at (C00009e.center) {phosph};
\node[cpd,minimum width=2.74cm,minimum height=1.07cm] (C00003e) at (2429.4,2350) {};
\node[cid] (C00003et) at ([xshift=0.9mm,yshift=1mm]C00003e.south west) {C00003};
\pic at (C00003e.center) {adp};
\node[rxn] (R04559) at (2023.5,2499.5) {R04559};
\node[cpd,minimum width=1.36cm,minimum height=0.99cm] (C00122) at (1865.5,2644.4) {};
\node[cid] (C00122t) at ([xshift=0.9mm,yshift=1mm]C00122.south west) {C00122};
\pic at (C00122.center) {fumarate};
\node[cpd,minimum width=3.28cm,minimum height=1.12cm] (C00002f) at (2121.4,2644.4) {};
\node[cid] (C00002ft) at ([xshift=0.9mm,yshift=1mm]C00002f.south west) {C00002};
\pic at (C00002f.center) {atp};
\node[cpd,minimum width=2.24cm,minimum height=1.46cm] (C04677) at (2421.4,2644.2) {};
\node[cid] (C04677t) at ([xshift=0.8mm,yshift=1mm]C04677.south west) {C04677};
\pic at (C04677.center) {aicar};
\node[rxn] (R06975) at (1940.5,2789.5) {R06975};
\node[cpd,minimum width=0.86cm,minimum height=0.88cm] (C00009f) at (1838,2936.4) {};
\node[cid] (C00009ft) at ([xshift=0.9mm,yshift=1mm]C00009f.south west) {C000C9};
\pic at (C00009f.center) {phosph};
\node[cpd,minimum width=2.75cm,minimum height=1.06cm] (C00003f) at (2042.3,2936.4) {};
\node[cid] (C00003ft) at ([xshift=0.9mm,yshift=1mm]C00003f.south west) {C00003};
\pic at (C00003f.center) {adp};
\node[cpd,minimum width=2.24cm,minimum height=1.46cm] (C04734) at (1493.5,2936.4) {};
\node[cid] (C04734t) at ([xshift=0.9mm,yshift=1mm]C04734.south west) {C04734};
\pic at (C04734.center) {faicar};
\node[rxn] (R01127) at (1375.5,3083.5) {R01127};
\node[cpd,minimum width=0.72cm,minimum height=0.64cm] (C00001b) at (1375.5,3239.5) {};
\node[cid] (C00001bt) at ([xshift=1mm,yshift=1mm]C00001b.south west) {C00001};
\pic at (C00001b.center) {water};
\node[cpd,minimum width=3.28cm,minimum height=1.124cm] (C00002g) at (927.3,2644.5) {};
\node[cid] (C00002gt) at ([xshift=0.9mm,yshift=1mm]C00002g.south west) {C00002};
\pic at (C00002g.center) {atp};
\node[rxn] (R01049) at (972.7,2789.5) {R01049};
\node[cpd,minimum width=2.51cm,minimum height=1.124cm] (C00119) at (747,2936.5) {};
\node[cid] (C00119t) at ([xshift=0.8mm,yshift=1mm]C00119.south west) {C00119};
\pic at (C00119.center) {prpp};
\node[cpd,minimum width=2.45cm,minimum height=1.124cm] (C00020) at (1018.8,2936.5) {};
\node[cid] (C00020t) at ([xshift=0.8mm,yshift=1mm]C00020.south west) {C00020};
\pic at (C00020.center) {amp};
\node[rxn] (R01132) at (768.7,3083.3) {R01132};
\node[cpd,minimum width=1.684cm,minimum height=1.687cm] (C00130) at (943.8,3239.4) {};
\node[cid] (C00130t) at ([xshift=0.9mm,yshift=1mm]C00130.south west) {C00130};
\pic at (C00130.center) {imp};
\node[cpd,minimum width=2.75cm,minimum height=1.074cm] (C00003g) at (551.5,3239) {};
\node[cid] (C00003gt) at ([xshift=0.9mm,yshift=1mm]C00003g.south west) {C00003};
\pic at (C00003g.center) {adp};
\node[cpd,minimum width=1.23cm,minimum height=0.914cm] (C00013) at (774.4,3239) {};
\node[cid] (C00013t) at ([xshift=0.9mm,yshift=1mm]C00013.south west) {C00013};
\pic at (C00013.center) {ppi};
\node[rxn] (R01131) at (562,3395.3) {R01131};
\node[rxn] (R00720) at (858,3395.3) {R00720};
\node[cpd,minimum width=3.29cm,minimum height=1.12cm] (C00002h) at (316.8,3549.4) {};
\node[cid] (C00002ht) at ([xshift=0.9mm,yshift=1mm]C00002h.south west) {C00002};
\pic at (C00002h.center) {atp};
\node[cpd,minimum width=1.247cm,minimum height=1.634cm] (C00294) at (567.3,3550) {};
\node[cid] (C00294t) at ([xshift=0.9mm,yshift=1mm]C00294.south west) {C00294};
\pic at (C00294.center) {inosine};
\node[cpd,minimum width=0.734cm,minimum height=0.643cm] (C00001c) at (92.6,3549.5) {};
\node[cid] (C00001ct) at ([xshift=1mm,yshift=1mm]C00001c.south west) {C00001};
\pic at (C00001c.center) {water};
\node[cpd,minimum width=0.72cm,minimum height=0.643cm] (C00001d) at (689.3,3549.5) {};
\node[cid] (C00001dt) at ([xshift=1mm,yshift=1mm]C00001d.south west) {C00001};
\pic at (C00001d.center) {water};
\node[cpd,minimum width=0.727cm,minimum height=0.772cm] (C00014) at (785.3,3550.2) {};
\node[cid] (C00014t) at ([xshift=1mm,yshift=1mm]C00014.south west) {C00014};
\pic at (C00014.center) {ammonia};
\node[cpd,minimum width=2.47cm,minimum height=1.652cm] (C00081) at (968.2,3550) {};
\node[cid] (C00081t) at ([xshift=0.9mm,yshift=1mm]C00081.south west) {C00081};
\pic at (C00081.center) {itp};
\node[rxn] (R01770) at (503.4,3704.7) {R01770};
\node[rxn] (R00088) at (856.5,3704.7) {R00088};
\node[cpd,minimum width=1.125cm,minimum height=1.04cm] (C00262) at (380.6,3832.4) {};
\node[cid] (C00262t) at ([xshift=0.8mm,yshift=1mm]C00262.south west) {C00262};
\pic at (C00262.center) {hypox};
\node[cpd,minimum width=1.255cm,minimum height=0.942cm] (C00121) at (522.5,3832.4) {};
\node[cid] (C00121t) at ([xshift=0.9mm,yshift=1mm]C00121.south west) {C00121};
\pic at (C00121.center) {riboseb};
\node[cpd,minimum width=0.72cm,minimum height=0.643cm] (C00001e) at (684.7,3832.5) {};
\node[cid] (C00001et) at ([xshift=1mm,yshift=1mm]C00001e.south west) {C00001};
\pic at (C00001e.center) {water};
\node[cpd,minimum width=3.29cm,minimum height=1.12cm] (C00002i) at (908.2,3832.4) {};
\node[cid] (C00002it) at ([xshift=0.9mm,yshift=1mm]C00002i.south west) {C00002};
\pic at (C00002i.center) {atp};
\node[rxn] (R01128) at (1128.5,3960.5) {R01128};
\node[cpd,minimum width=0.727cm,minimum height=0.643cm] (C00001f) at (1128.2,4064.7) {};
\node[cid] (C00001ft) at ([xshift=1mm,yshift=1mm]C00001f.south west) {C00001};
\pic at (C00001f.center) {water};
\draw[conn] ([xshift=2.7mm]C00117.south) -- ([xshift=-1.5mm]R01056.north);
\draw[conn] ([xshift=-1.2mm]C00117.south) .. controls (1145,270) and (1128,350) .. (1128,560) .. controls (1128,1400) and (1135,2000) .. (1135,2610) .. controls (1135,2690) and (1090,2750) .. ([yshift=1.1mm]R01049.east);
\draw[conn] (C00117.south) -- (1179.5,3600) .. controls (1180,3750) and (1155,3850) .. ([xshift=0.9mm]R01128.north);
\draw[conn] ([xshift=0.55mm]R01056.south) -- ([xshift=-1.1mm]C00199.north);
\draw[conn] (C00199.south) -- (R07281.north);
\draw[conn] (R07281.south) -- (C15556.north);
\draw[conn] ([yshift=-0.3mm]R07281.east) .. controls (1500,597) and (1680,620) .. (1735,654) .. controls (1752,670) and (1765,695) .. ([xshift=-0.9mm]C00058.north);
\draw[conn] ([xshift=3.24mm]C00006.south) -- ([xshift=-0.83mm]R00134.north);
\draw[conn] ([xshift=-1.2mm]C00058.south) .. controls (1755,850) and (1715,880) .. ([yshift=1.96mm]R00134.east);
\draw[conn] ([xshift=-0.44mm]C00058.south) .. controls (1770,950) and (1760,1100) .. (1760,1300) -- (1760,2350) .. controls (1760,2500) and (1752,2600) .. (1755,2660) .. controls (1762,2720) and (1820,2760) .. ([yshift=0.65mm]R06975.west);
\draw[conn] ([yshift=-2mm]C00058.east) .. controls (1950,860) and (2200,900) .. ([yshift=0.5mm]R06974.west);
\draw[conn] ([xshift=0.6mm]C00011a.south) .. controls (1450,215) and (1500,250) .. ([yshift=1.6mm]R05704.west);
\draw[conn] ([xshift=0.9mm]blanka.south) -- ([xshift=-0.95mm]R05704.north);
\draw[conn] ([xshift=-0.58mm]C01326.south) -- ([xshift=0.53mm]R05704.north);
\draw[conn] (R05704.south) -- (blankb.north);
\draw[conn] ([xshift=12.1mm]C00010.south) -- ([xshift=-2.56mm]R00830.north);
\draw[conn] (C00011b.south) -- ([xshift=0.1mm]R00830.north);
\draw[conn] ([xshift=-3.65mm]C00430.south) -- ([xshift=1.95mm]R00830.north);
\draw[conn] (R00830.south) -- (C00091.north);
\draw[conn] ([xshift=3.1mm]R00830.south) -- ([yshift=3.6mm]C00037.west);
\draw[conn] ([yshift=-0.3mm]R05704.east) .. controls (1850,335) and (2090,360) .. ([yshift=4.1mm]C00037.west);
\draw[conn] (C01242.south) -- (R03425.north);
\draw[conn] ([xshift=-0.6mm]C00011c.south) .. controls (2540,230) and (2490,255) .. ([yshift=1.2mm]R03425.east);
\draw[conn] (R03425.south west) .. controls (2295,370) and (2260,385) .. ([yshift=4.2mm]C00037.east);
\draw[conn] (R03425.south) -- ([xshift=0.3mm]C02051.north);
\draw[conn] (C00037.south east) .. controls (2290,540) and (2480,555) .. ([yshift=0.4mm]R04144.west);
\draw[conn] (C00002a.south) -- (R04144.north);
\draw[conn] ([yshift=-5.95mm]C03090.west) .. controls (2790,535) and (2730,560) .. ([yshift=1.3mm]R04144.east);
\draw[conn] ([yshift=-1.5mm]R04144.west) .. controls (2540,620) and (2480,670) .. ([xshift=1.7mm]C00009a.north);
\draw[conn] (R04144.south) -- (C00003a.north);
\draw[conn] ([yshift=-1.6mm]R04144.east) .. controls (2760,640) and (2815,670) .. ([xshift=-6.06mm]C03838.north);
\draw[conn] ([xshift=9.2mm]C00002b.south) -- (R06974.north west);
\draw[conn] ([xshift=-5.56mm]C03838.south) .. controls (2800,880) and (2680,910) .. ([yshift=0.5mm]R06974.east);
\draw[conn] ([xshift=4.28mm]C03838.south) -- ([xshift=-1.68mm]R04325.north);
\draw[conn] ([xshift=-9mm]C00234.south) -- ([xshift=3.24mm]R04325.north);
\draw[conn] ([xshift=1.9mm]R06974.south) -- ([xshift=-4.15mm]C00003b.north);
\draw[conn] ([yshift=-0.8mm]R06974.east) .. controls (2700,985) and (2850,1000) .. ([xshift=-4.5mm]C04376.north);
\draw[conn] ([yshift=-0.4mm]R06974.west) .. controls (2250,955) and (2030,970) .. (1896,1006) .. controls (1870,1025) and (1855,1060) .. ([xshift=0.75mm]C00009b.north);
\draw[conn] ([xshift=-0.7mm]R04325.south) -- ([xshift=2.35mm]C04376.north);
\draw[conn] ([xshift=3.44mm]R04325.south) -- ([xshift=-9.6mm]C00101.north);
\draw[conn] ([xshift=-2.5mm]R00134.south) -- ([xshift=13.26mm]C00005.north);
\draw[conn] ([xshift=0.85mm]R00134.south) -- ([xshift=-1.2mm]C00011d.north);
\draw[conn] ([xshift=2.25mm]C00064.south) .. controls (2040,1270) and (2110,1300) .. ([yshift=0.45mm]R04463.west);
\draw[conn] ([xshift=6mm]C00002c.south) -- ([xshift=-2.66mm]R04463.north);
\draw[conn] ([xshift=-0.2mm]C00001a.south) -- (R04463.north);
\draw[conn] ([xshift=-4.35mm]C04376.south) .. controls (2860,1290) and (2680,1320) .. ([yshift=0.5mm]R04463.east);
\draw[conn] ([xshift=-3.5mm]R04463.south) -- (C04640.north east);
\draw[conn] (R04463.south) -- (C00025.north);
\draw[conn] ([xshift=3mm]R04463.south) -- ([xshift=-3.66mm]C00009c.north);
\draw[conn] ([yshift=-1.5mm]R04463.east) -- ([xshift=-12mm]C00003c.north);
\draw[conn] ([xshift=6.5mm]C00002d.south) -- ([xshift=-2.7mm]R04208.north);
\draw[conn] ([xshift=-6.2mm]C04640.south) -- ([xshift=2.3mm]R04208.north);
\draw[conn] ([xshift=-2.67mm]R04208.south) -- ([xshift=7.4mm]C03373.north);
\draw[conn] (R04208.south) -- (C00009d.north);
\draw[conn] ([xshift=3.55mm]R04208.south) -- ([xshift=-7.9mm]C00003d.north);
\draw[conn] ([yshift=-6.4mm]C03373.east) .. controls (2140,1870) and (2270,1893) .. ([yshift=0.33mm]R04209.west);
\draw[conn] ([xshift=-2mm]C00011e.south) .. controls (2510,1825) and (2475,1860) .. ([xshift=2.4mm]R04209.north);
\draw[conn] (R04209.south) -- (C04751.north);
\draw[conn] ([xshift=10mm]C00002e.south) -- (R04591.north west);
\draw[conn] (C00049.south) -- (R04591.north);
\draw[conn] ([xshift=-10.2mm]C04751.south) -- ([xshift=3.44mm]R04591.north);
\draw[conn] ([xshift=-3.44mm]R04591.south) -- ([xshift=10.5mm]C04823.north);
\draw[conn] (R04591.south) -- (C00009e.north);
\draw[conn] ([xshift=3.44mm]R04591.south) -- ([xshift=-7.3mm]C00003e.north);
\draw[conn] (C04823.south) -- (R04559.north);
\draw[conn] ([xshift=-2.87mm]R04559.south) -- ([xshift=5.6mm]C00122.north);
\draw[conn] ([yshift=-0.63mm]R04559.east) .. controls (2150,2530) and (2240,2545) .. ([yshift=6.8mm]C04677.west);
\draw[conn] ([xshift=-7.07mm]C00002f.south) -- ([xshift=3.3mm]R06975.north);
\draw[conn] ([yshift=-6.96mm]C04677.west) .. controls (2250,2750) and (2080,2770) .. ([yshift=0.55mm]R06975.east);
\draw[conn] ([xshift=-1.85mm]R06975.south) -- ([xshift=3.2mm]C00009f.north);
\draw[conn] ([xshift=1.75mm]R06975.south) -- ([xshift=-4mm]C00003f.north);
\draw[conn] ([yshift=-1.45mm]R06975.west) -- ([yshift=3.68mm]C04734.east);
\draw[conn] ([xshift=-6mm]C04734.south) -- ([xshift=2.1mm]R01127.north);
\draw[conn] (R01127.south) -- (C00001b.north);
\draw[conn] ([yshift=-1.35mm]R01127.west) -- ([yshift=3.14mm]C00130.east);
\draw[conn] ([xshift=1.8mm]C00002g.south) -- ([xshift=-0.94mm]R01049.north);
\draw[conn] (R01049.south west) -- ([xshift=8.6mm]C00119.north);
\draw[conn] ([xshift=0.83mm]R01049.south) -- ([xshift=-1.78mm]C00020.north);
\draw[conn] ([xshift=0.86mm]C00119.south) -- ([xshift=-0.6mm]R01132.north);
\draw[conn] (R01132.south) -- (C00013.north);
\draw[conn] ([xshift=2.78mm]R01132.south) -- ([yshift=7.6mm]C00130.west);
\draw[conn] ([yshift=1.74mm]C00262.west) .. controls (230,3780) and (70,3720) .. (22,3560) .. controls (19,3500) and (19,3450) .. (19.6,3390) .. controls (22,3310) and (60,3260) .. (147,3226) .. controls (220,3190) and (330,3185) .. (442,3140) .. controls (510,3110) and (640,3095) .. ([yshift=-0.4mm]R01132.west);
\draw[conn] ([xshift=0.43mm]C00003g.south) -- ([xshift=-0.2mm]R01131.north);
\draw[conn] ([yshift=-7.73mm]C00130.west) .. controls (820,3350) and (720,3375) .. ([yshift=0.53mm]R01131.east);
\draw[conn] ([xshift=2.56mm]C00013.south) -- ([xshift=-1.4mm]R00720.north);
\draw[conn] ([xshift=-4.84mm]C00130.south) -- ([xshift=1.43mm]R00720.north);
\draw[conn] (R01131.south west) -- ([xshift=9mm]C00002h.north);
\draw[conn] (R01131.south) -- (C00294.north);
\draw[conn] ([yshift=-1.8mm]R00720.west) .. controls (770,3450) and (720,3480) .. ([xshift=1.6mm]C00001d.north);
\draw[conn] ([xshift=1.9mm]R00720.south) -- ([xshift=-6mm]C00081.north);
\draw[conn] ([xshift=-3.55mm]C00294.south) -- ([xshift=1.06mm]R01770.north);
\draw[conn] ([xshift=1.22mm]C00001c.south) .. controls (130,3640) and (240,3670) .. ([yshift=0.47mm]R01770.west);
\draw[conn] ([xshift=1.97mm]C00014.south) -- ([xshift=-1.25mm]R00088.north);
\draw[conn] ([xshift=-6.15mm]C00081.south) -- ([xshift=1.8mm]R00088.north);
\draw[conn] ([xshift=-2.37mm]R01770.south) -- ([xshift=5.17mm]C00262.north);
\draw[conn] ([xshift=0.39mm]R01770.south) -- ([xshift=-0.75mm]C00121.north);
\draw[conn] ([yshift=-2mm]R00088.west) .. controls (770,3755) and (730,3770) .. ([xshift=2.5mm]C00001e.north);
\draw[conn] ([xshift=1mm]R00088.south) -- ([xshift=-2.3mm]C00002i.north);
\draw[conn] (C00262.south east) .. controls (520,3925) and (800,3945) .. ([yshift=0.1mm]R01128.west);
\draw[conn] (R01128.south) -- (C00001f.north);
\draw[conn] (R01128.north) -- (1128,3540) .. controls (1128,3440) and (1060,3380) .. (C00130.south east);
\end{tikzpicture}
\end{document}
